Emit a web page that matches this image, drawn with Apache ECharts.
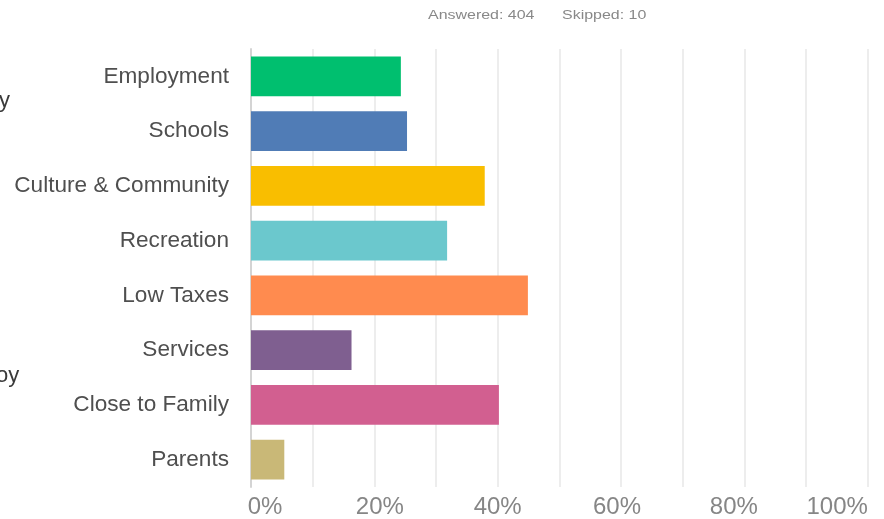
<!DOCTYPE html>
<html>
<head>
<meta charset="utf-8">
<script src="https://cdn.jsdelivr.net/npm/echarts@6/dist/echarts.min.js"></script>
<style>
  html, body { margin: 0; padding: 0; background: #fff; }
  #chart { width: 884px; height: 519px; }
</style>
</head>
<body>
<div id="chart"></div>
<script>
// Reasons for choosing the community (share of respondents, %)
const categories = ['Employment', 'Schools', 'Culture & Community', 'Recreation',
                    'Low Taxes', 'Services', 'Close to Family', 'Parents'];
const shares = [24.3, 25.3, 37.9, 31.8, 44.9, 16.3, 40.2, 5.4];
const barColors = ['#00BF6F', '#507CB6', '#F9BE00', '#6BC8CD',
                   '#FF8B4F', '#7F5F90', '#D25F90', '#C9B877'];
const tickLabels = [0, 20, 40, 60, 80, 100];
const answered = 404;
const skipped = 10;

// small horizontal nudges for the percentage labels under the axis
const labelPad = {
  0: [0, 0, 0, 28], 20: [0, 0, 0, 11], 40: [0, 0, 0, 0],
  60: [0, 8, 0, 0], 80: [0, 21, 0, 0], 100: [0, 61, 0, 0]
};
const rich = {};
tickLabels.forEach(function (t) {
  rich['t' + t] = {
    fontSize: 24, color: '#868686', fontFamily: 'Liberation Sans, Arial, sans-serif',
    padding: labelPad[t]
  };
});

const chart = echarts.init(document.getElementById('chart'), null, { renderer: 'canvas' });
const font = 'Liberation Sans, Arial, sans-serif';

chart.setOption({
  animation: false,
  backgroundColor: '#ffffff',
  grid: { left: 251, right: 16.3, top: 49, bottom: 32, containLabel: false },
  xAxis: {
    type: 'value', min: 0, max: 100, interval: 10,
    axisLine: { show: false }, axisTick: { show: false },
    splitLine: { show: true, lineStyle: { color: '#ededed', width: 2 } },
    axisLabel: {
      margin: 8, align: 'center',
      alignMinLabel: 'center', alignMaxLabel: 'center',
      formatter: function (v) {
        return tickLabels.indexOf(v) >= 0 ? '{t' + v + '|' + v + '%}' : '';
      },
      rich: rich
    }
  },
  yAxis: {
    type: 'category', inverse: true, data: categories,
    axisLine: { show: true, lineStyle: { color: '#d4d4d4', width: 2 } },
    axisTick: { show: false },
    axisLabel: { fontSize: 22.6, color: '#4f4f4f', fontFamily: font, margin: 22 }
  },
  series: [{
    type: 'bar',
    barCategoryGap: '27%',
    data: shares.map(function (v, i) {
      return { value: v, itemStyle: { color: barColors[i] } };
    })
  }],
  graphic: [
    { type: 'text', left: 428, top: 10, scaleX: 1.33,
      style: { text: 'Answered: ' + answered, fontSize: 12, fill: '#888888', fontFamily: font } },
    { type: 'text', left: 562, top: 10, scaleX: 1.33,
      style: { text: 'Skipped: ' + skipped, fontSize: 12, fill: '#888888', fontFamily: font } },
    { type: 'text', x: -1, y: 90,
      style: { text: 'y', fontSize: 22, fill: '#3a3a3a', fontFamily: font } },
    { type: 'text', x: -4, y: 365,
      style: { text: 'oy', fontSize: 22, fill: '#3a3a3a', fontFamily: font } }
  ]
});
</script>
</body>
</html>
